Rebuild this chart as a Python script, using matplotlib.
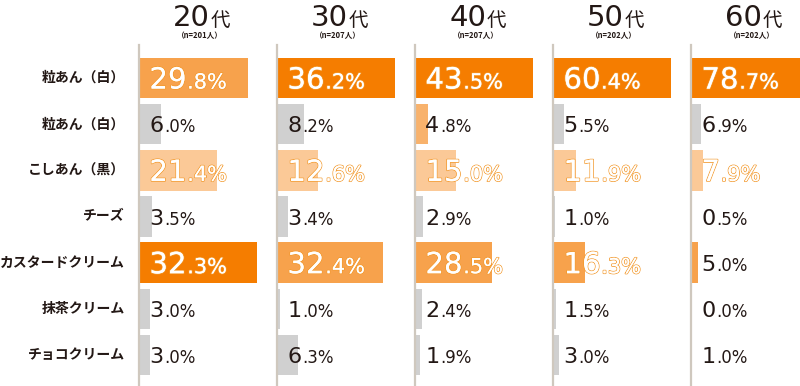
import matplotlib
matplotlib.use('Agg')
import matplotlib.pyplot as plt
import matplotlib.patheffects as pe

plt.rcParams['font.family'] = ['Noto Sans CJK JP', 'DejaVu Sans']

# データ
items = ['粒あん（白）', '粒あん（白）', 'こしあん（黒）', 'チーズ',
         'カスタードクリーム', '抹茶クリーム', 'チョコクリーム']
ages = ['20', '30', '40', '50', '60']
n_labels = ['（n=201人）', '（n=207人）', '（n=207人）', '（n=202人）', '（n=202人）']

v20 = [29.8, 6.0, 21.4, 3.5, 32.3, 3.0, 3.0]
v30 = [36.2, 8.2, 12.6, 3.4, 32.4, 1.0, 6.3]
v40 = [43.5, 4.8, 15.0, 2.9, 28.5, 2.4, 1.9]
v50 = [60.4, 5.5, 11.9, 1.0, 16.3, 1.5, 3.0]
v60 = [78.7, 6.9, 7.9, 0.5, 5.0, 0.0, 1.0]
values = [v20, v30, v40, v50, v60]

# 色の段階 d=濃 m=中 p=淡中 l=淡 g=灰
c20 = ['m', 'g', 'l', 'g', 'd', 'g', 'g']
c30 = ['d', 'g', 'l', 'g', 'm', 'g', 'g']
c40 = ['d', 'p', 'l', 'g', 'm', 'g', 'g']
c50 = ['d', 'g', 'l', 'g', 'm', 'g', 'g']
c60 = ['d', 'g', 'l', 'g', 'm', 'g', 'g']
levels = [c20, c30, c40, c50, c60]

palette = {'d': '#F57D00', 'm': '#F7A24C', 'p': '#F8B26C',
           'l': '#FBC997', 'g': '#D0D0D0'}
outline = '#F39A2E'
dark_text = '#231815'
line_col = '#CFC8BE'
num_font = ['DejaVu Sans']

W, H = 800, 386
fig = plt.figure(figsize=(W / 100, H / 100), dpi=100)

panel_x = [139, 277, 415, 553, 691]
panel_w = 138
top_px, bot_px = 45, 386
row0, row_step = 78, 46.2

def fx(px):
    return px / W

def fy(px):
    return 1 - px / H

for k in range(5):
    ax = fig.add_axes([fx(panel_x[k]), fy(bot_px), panel_w / W, (bot_px - top_px) / H])
    ax.set_facecolor('none')
    vals = values[k]
    cols = [palette[c] for c in levels[k]]
    ys = list(range(len(items)))
    ax.barh(ys, vals, height=0.88, color=cols, zorder=1)
    ax.set_xlim(0, max(vals) * 1.17)
    ax.set_ylim(6 + (bot_px - 355) / row_step, -(row0 - top_px) / row_step)
    for s in ['top', 'right', 'bottom']:
        ax.spines[s].set_visible(False)
    ax.spines['left'].set_color(line_col)
    ax.spines['left'].set_linewidth(1.6)
    ax.spines['left'].set_zorder(3)
    ax.set_xticks([])
    ax.set_yticks([])

    for i, v in enumerate(vals):
        big = levels[k][i] != 'g' and v >= 7
        s = '%.1f' % v
        ipart, dpart = s.split('.')
        if big:
            fs1, fs2, dy = 21, 15, -7.6
            color = 'white'
            eff = [pe.withStroke(linewidth=1.2, foreground=outline)]
        else:
            fs1, fs2, dy = 16, 12, -5.8
            color = dark_text
            eff = None
        t1 = ax.annotate(ipart, xy=(0, i), xytext=(7.5, dy), textcoords='offset points',
                         ha='left', va='baseline', fontsize=fs1, color=color,
                         family=num_font, zorder=4, annotation_clip=False)
        t2 = ax.annotate('.' + dpart + '%', xy=(1, i), xycoords=(t1, ax.transData),
                         xytext=(0.5, dy), textcoords='offset points',
                         ha='left', va='baseline', fontsize=fs2, color=color,
                         family=num_font, zorder=4, annotation_clip=False)
        if eff:
            t1.set_path_effects(eff + [pe.Normal()])
            t2.set_path_effects(eff + [pe.Normal()])

    # 見出し
    cx = panel_x[k] + 71
    fig.text(fx(cx), fy(26), ages[k], ha='right', va='baseline', fontsize=21,
             color=dark_text, family=num_font)
    fig.text(fx(cx + 1), fy(26), '代', ha='left', va='baseline', fontsize=14,
             color=dark_text)
    fig.text(fx(panel_x[k] + 61), fy(36), n_labels[k], ha='center', va='center',
             fontsize=5.5, color=dark_text, weight='bold')

# 項目名
for i, name in enumerate(items):
    fig.text(fx(125), fy(row0 + i * row_step), name, ha='right', va='center',
             fontsize=10, color=dark_text, weight='bold')

fig.savefig('out.png', dpi=100, facecolor='white')
